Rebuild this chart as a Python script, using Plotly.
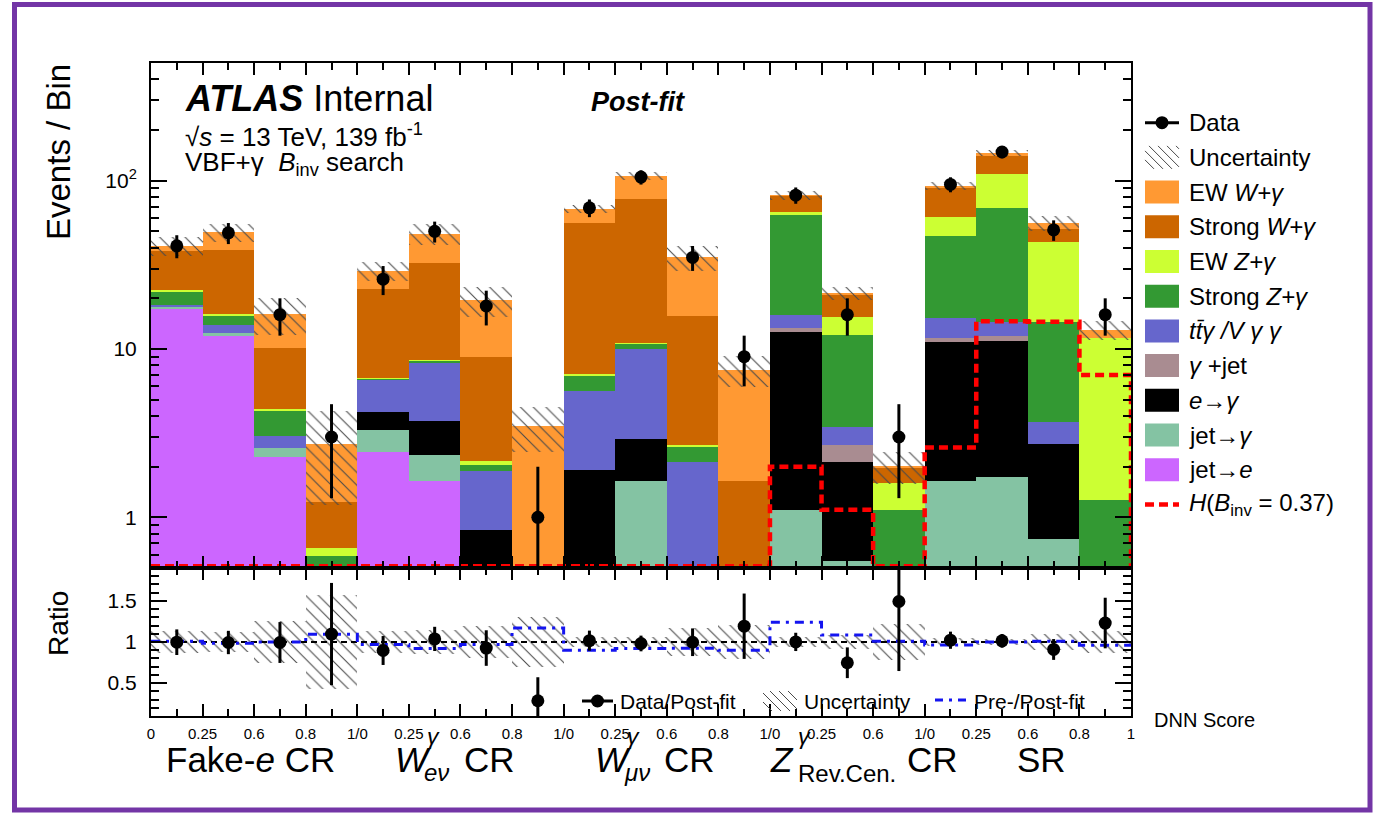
import numpy as np
import plotly.graph_objects as go

# ---------------- data ----------------
edge_labels = ["0", "0.25", "0.6", "0.8", "1/0", "0.25", "0.6", "0.8", "1/0",
               "0.25", "0.6", "0.8", "1/0", "0.25", "0.6", "1/0", "0.25", "0.6", "0.8", "1"]

jet_to_e     = [17.5, 12.0, 2.27, 0, 2.43, 1.65, 0, 0, 0, 0, 0, 0, 0, 0, 0, 0, 0, 0, 0]
jet_to_gamma = [0.35, 0.4, 0.3, 0, 0.87, 0.71, 0, 0, 0, 1.65, 0, 0, 1.1, 0.55, 0, 1.65, 1.73, 0.74, 0]
e_to_gamma   = [0, 0, 0, 0, 0.9, 1.39, 0.84, 0, 1.92, 1.27, 0, 0, 11.5, 1.57, 0, 9.3, 9.47, 1.99, 0]
gamma_jet    = [0, 0, 0, 0, 0, 0, 0, 0, 0, 0, 0, 0, 0.7, 0.58, 0, 0.64, 0.7, 0, 0]
ttgamma      = [0.35, 1.5, 0.48, 0, 2.43, 4.59, 1.05, 0, 3.73, 7.1, 2.12, 0, 2.6, 0.72, 0, 3.6, 2.5, 0.97, 0]
strong_z     = [3.8, 1.9, 1.25, 0.59, 0.05, 0.15, 0.16, 0, 1.29, 0.7, 0.49, 0, 46.6, 8.68, 1.1, 31.5, 54.4, 10.8, 1.27]
ew_z         = [0.3, 0.3, 0.1, 0.065, 0.02, 0.1, 0.12, 0, 0.16, 0.2, 0.09, 0, 2.9, 3.3, 0.5, 14.4, 40.8, 28.9, 10.43]
strong_w     = [16.1, 22.8, 5.7, 0.58, 16.0, 23.8, 6.76, 0, 49.0, 67.0, 12.9, 1.65, 16.0, 5.8, 0.38, 30.3, 31.4, 8.2, 0]
ew_w         = [2.7, 10.4, 6.0, 1.5, 6.3, 15.8, 10.5, 3.5, 11.8, 29.0, 19.5, 5.9, 0.5, 0.2, 0.03, 1.6, 5.0, 4.5, 1.3]

data     = [41, 49, 16, 3, 26, 50, 18, 1, 69, 105, 35, 9, 82, 16, 3, 95, 148, 51, 16]
data_err = [6.4, 7.0, 4.0, 1.7, 5.1, 7.1, 4.2, 1.0, 8.3, 10.2, 5.9, 3.0, 9.1, 4.0, 1.7, 9.7, 12.2, 7.1, 4.0]

signal   = [0.05] * 12 + [2.0, 1.11, 0.05, 2.6, 14.6, 14.5, 7.0]
rel_unc  = [0.13, 0.12, 0.25, 0.57, 0.13, 0.14, 0.20, 0.30, 0.06, 0.06, 0.17, 0.21,
            0.06, 0.09, 0.22, 0.05, 0.04, 0.10, 0.13]
prefit_ratio = [1.01, 0.985, 1.0, 1.094, 0.97, 0.92, 0.97, 1.17, 0.90, 0.92, 0.925, 0.90,
                1.24, 1.086, 1.01, 0.963, 1.0, 1.01, 0.96]

# ---------------- geometry helpers ----------------
W, H = 1383, 818
L, R, T, B = 151, 1131, 63, 716
MID = 568


def px(x):
    return (x - L) / (R - L)


def py(y):
    return (B - y) / (B - T)


FONT = "Liberation Sans, Arial, Helvetica, sans-serif"

n = len(data)
centers = np.arange(n) + 0.5
edges = np.arange(n + 1)

C_EWW, C_SW, C_EWZ, C_SZ = "#ff9933", "#cc6600", "#ccff33", "#339933"
C_TT, C_GJ, C_EG, C_JG, C_JE = "#6666cc", "#a98c91", "#000000", "#84c3a3", "#cc66ff"

stack = [
    (jet_to_e, C_JE, "jet→e"),
    (jet_to_gamma, C_JG, "jet→γ"),
    (e_to_gamma, C_EG, "e→γ"),
    (gamma_jet, C_GJ, "γ+jet"),
    (ttgamma, C_TT, "ttγ/Vγγ"),
    (strong_z, C_SZ, "Strong Z+γ"),
    (ew_z, C_EWZ, "EW Z+γ"),
    (strong_w, C_SW, "Strong W+γ"),
    (ew_w, C_EWW, "EW W+γ"),
]
total = np.sum([np.array(s[0], dtype=float) for s in stack], axis=0)
data_a = np.array(data, dtype=float)
derr_a = np.array(data_err, dtype=float)
unc_a = np.array(rel_unc) * total

fig = go.Figure()

for vals, col, name in stack:
    fig.add_trace(go.Bar(x=centers, y=vals, width=1, name=name, showlegend=False,
                         marker=dict(color=col, line=dict(width=0)),
                         xaxis="x", yaxis="y"))

hatch = dict(shape="\\", fgcolor="#4a4a4a", bgcolor="rgba(0,0,0,0)", size=9,
             solidity=0.12, fillmode="replace")

fig.add_trace(go.Bar(x=centers, y=2 * unc_a, base=total - unc_a, width=1, showlegend=False,
                     marker=dict(color="rgba(0,0,0,0)", line=dict(width=0), pattern=hatch),
                     xaxis="x", yaxis="y"))

# signal histogram (values below the axis minimum are drawn on the axis, as ROOT does)
YFLOOR = 0.512
sig_draw = np.maximum(np.array(signal), YFLOOR)
sx = [0] + list(edges) + [edges[-1]]
sy = [YFLOOR] + list(sig_draw) + [sig_draw[-1], YFLOOR]
fig.add_trace(go.Scatter(x=sx, y=sy, mode="lines", line=dict(color="#ff0000", width=4.5, dash="9px,5px", shape="hv"),
                         showlegend=False, xaxis="x", yaxis="y"))

fig.add_trace(go.Scatter(x=centers, y=data_a, mode="markers", showlegend=False,
                         marker=dict(size=13, color="black"),
                         error_y=dict(type="data", array=derr_a, thickness=3, width=0, color="black"),
                         xaxis="x", yaxis="y"))

# ---------------- ratio panel ----------------
ratio = data_a / total
ratio_err = derr_a / total
rel = np.array(rel_unc)
fig.add_trace(go.Bar(x=centers, y=2 * rel, base=1 - rel, width=1, showlegend=False,
                     marker=dict(color="rgba(0,0,0,0)", line=dict(width=0), pattern=hatch),
                     xaxis="x2", yaxis="y2"))
fig.add_trace(go.Scatter(x=[0, n], y=[1, 1], mode="lines", showlegend=False,
                         line=dict(color="black", width=2, dash="6px,4px"), xaxis="x2", yaxis="y2"))
fig.add_trace(go.Scatter(x=list(edges), y=list(prefit_ratio) + [prefit_ratio[-1]], mode="lines",
                         showlegend=False,
                         line=dict(color="#1414f0", width=3, dash="9px,6px,3px,6px", shape="hv"),
                         xaxis="x2", yaxis="y2"))
fig.add_trace(go.Scatter(x=centers, y=ratio, mode="markers", showlegend=False,
                         marker=dict(size=13, color="black"),
                         error_y=dict(type="data", array=ratio_err, thickness=3, width=0, color="black"),
                         xaxis="x2", yaxis="y2"))

# ---------------- axes ----------------
axis_common = dict(showline=True, linewidth=2, linecolor="black", mirror="allticks",
                   showgrid=False, zeroline=False, ticks="inside", tickcolor="black")

minor_log = [0.5, 0.6, 0.7, 0.8, 0.9] + [2, 3, 4, 5, 6, 7, 8, 9] + \
            [20, 30, 40, 50, 60, 70, 80, 90] + [200, 300, 400, 500]

split = py(MID)
fig.update_layout(
    xaxis=dict(domain=[0, 1], anchor="y", range=[0, n], tickvals=list(edges), showticklabels=False,
               ticklen=12, tickwidth=2,
               minor=dict(tickvals=list(centers), ticklen=7, ticks="inside", tickwidth=1.5, tickcolor="black"),
               **axis_common),
    yaxis=dict(domain=[split, 1], anchor="x", type="log", range=[np.log10(0.5), np.log10(500)],
               tickvals=[1, 10, 100], ticktext=["1", "10", "10<sup>2</sup>"], ticklen=16, tickwidth=2,
               tickfont=dict(size=21, family=FONT, color="black"), ticklabelstandoff=8,
               minor=dict(tickvals=minor_log, ticklen=8, ticks="inside", tickwidth=1.5, tickcolor="black"),
               **axis_common),
    xaxis2=dict(domain=[0, 1], anchor="y2", range=[0, n], tickvals=list(edges), ticktext=edge_labels,
                ticklen=12, tickwidth=2, tickfont=dict(size=15, family=FONT, color="black"),
                ticklabelstandoff=3,
                minor=dict(tickvals=list(centers), ticklen=7, ticks="inside", tickwidth=1.5, tickcolor="black"),
                **axis_common),
    yaxis2=dict(domain=[0, split], anchor="x2", range=[0.1, 1.9], tickvals=[0.5, 1, 1.5],
                ticktext=["0.5", "1", "1.5"], ticklen=16, tickwidth=2,
                tickfont=dict(size=21, family=FONT, color="black"), ticklabelstandoff=8,
                minor=dict(tick0=0, dtick=0.1, ticklen=8, ticks="inside", tickwidth=1.5, tickcolor="black"),
                **axis_common),
    barmode="stack", bargap=0,
    width=W, height=H,
    margin=dict(l=L, r=W - R, t=T, b=H - B, autoexpand=False),
    plot_bgcolor="white", paper_bgcolor="white",
    font=dict(family=FONT, color="black"),
    showlegend=False,
)

# ---------------- text ----------------
ann = []


def text(x, y, s, size, xanchor="left", yanchor="middle", angle=0):
    ann.append(dict(x=px(x), y=py(y), xref="paper", yref="paper", text=s, showarrow=False,
                    xanchor=xanchor, yanchor=yanchor, textangle=angle,
                    font=dict(size=size, family=FONT, color="black")))


text(58, 152, "Events / Bin", 33, "center", "middle", -90)
text(58, 624, "Ratio", 28, "center", "middle", -90)
text(183, 98, "<b><i>ATLAS</i></b> Internal", 36)
text(183, 135, "√<i>s</i> = 13 TeV, 139 fb<sup>-1</sup>", 26)
text(183, 163, "VBF+γ  <i>B</i><sub>inv</sub> search", 26)
text(638, 102, "<b><i>Post-fit</i></b>", 27, "center")
text(1257, 720, "DNN Score", 20, "right")

# region labels
text(250, 759, "Fake-<i>e</i> CR", 35, "center")
for wx, sub, crx in [(393, "eν", 462), (593, "μν", 662)]:
    text(wx, 759, "<i>W</i>", 35)
    text(wx + 32, 736, "<i>γ</i>", 23)
    text(wx + 29, 772, "<i>" + sub + "</i>", 24)
    text(crx, 759, "CR", 35)
text(768, 759, "<i>Z</i>", 35)
text(796, 736, "<i>γ</i>", 23)
text(796, 773, "Rev.Cen.", 24)
text(905, 759, "CR", 35)
text(1041, 759, "SR", 35, "center")

# ---------------- right legend ----------------
shapes = []


def rect(x0, y0, x1, y1, color):
    shapes.append(dict(type="rect", xref="paper", yref="paper", x0=px(x0), x1=px(x1), y0=py(y1), y1=py(y0),
                       fillcolor=color, line=dict(width=0), layer="above"))


def line(x0, y0, x1, y1, color, width, dash="solid"):
    shapes.append(dict(type="line", xref="paper", yref="paper", x0=px(x0), x1=px(x1), y0=py(y0), y1=py(y1),
                       line=dict(color=color, width=width, dash=dash), layer="above"))


def dot(cx, cy, r):
    shapes.append(dict(type="circle", xref="paper", yref="paper", x0=px(cx - r), x1=px(cx + r),
                       y0=py(cy + r), y1=py(cy - r), fillcolor="black", line=dict(width=0), layer="above"))


def hatch_box(xl, yt, xr, yb, step=9):
    h = yb - yt
    x0 = xl - h
    while x0 < xr:
        t0 = max(0, xl - x0)
        t1 = min(h, xr - x0)
        if t1 > t0:
            line(x0 + t0, yt + t0, x0 + t1, yt + t1, "#4a4a4a", 1)
        x0 += step


LX0, LX1, LTX = 1145, 1179, 1187
legend_items = [
    ("Data", "data"), ("Uncertainty", "hatch"),
    ("EW <i>W+γ</i>", C_EWW), ("Strong <i>W+γ</i>", C_SW),
    ("EW <i>Z+γ</i>", C_EWZ), ("Strong <i>Z+γ</i>", C_SZ),
    ("<i>tt̄γ /V γ γ</i>", C_TT), ("<i>γ</i> +jet", C_GJ),
    ("<i>e</i>→<i>γ</i>", C_EG), ("jet→<i>γ</i>", C_JG), ("jet→<i>e</i>", C_JE),
    ("<i>H</i>(<i>B</i><sub>inv</sub> = 0.37)", "signal"),
]
for i, (lab, kind) in enumerate(legend_items):
    yc = 122.7 + 34.7 * i
    if kind == "data":
        line(LX0, yc, LX1, yc, "black", 3)
        dot((LX0 + LX1) / 2, yc, 6.5)
    elif kind == "hatch":
        hatch_box(LX0, yc - 11.5, LX1, yc + 11.5)
    elif kind == "signal":
        line(LX0, yc, LX1, yc, "#ff0000", 4.5, "9px,5px")
    else:
        rect(LX0, yc - 11.5, LX1, yc + 11.5, kind)
    text(LTX, yc, lab, 24)

# ---------------- ratio legend ----------------
RY = 701
line(582, RY, 613, RY, "black", 3)
dot(597.5, RY, 6.5)
text(618, RY, "Data/Post-fit", 21)
hatch_box(763, RY - 10, 797, RY + 10)
text(802, RY, "Uncertainty", 21)
line(935, RY - 1, 968, RY - 1, "#1414f0", 3, "8px,6px,3px,6px")
text(972, RY, "Pre-/Post-fit", 21)

# purple frame
shapes.append(dict(type="rect", xref="paper", yref="paper", x0=px(14.5), x1=px(1370), y0=py(810), y1=py(4.5),
                   line=dict(color="#7335a6", width=5), fillcolor="rgba(0,0,0,0)", layer="above"))

fig.update_layout(annotations=ann, shapes=shapes)

fig.write_html("out.html")
